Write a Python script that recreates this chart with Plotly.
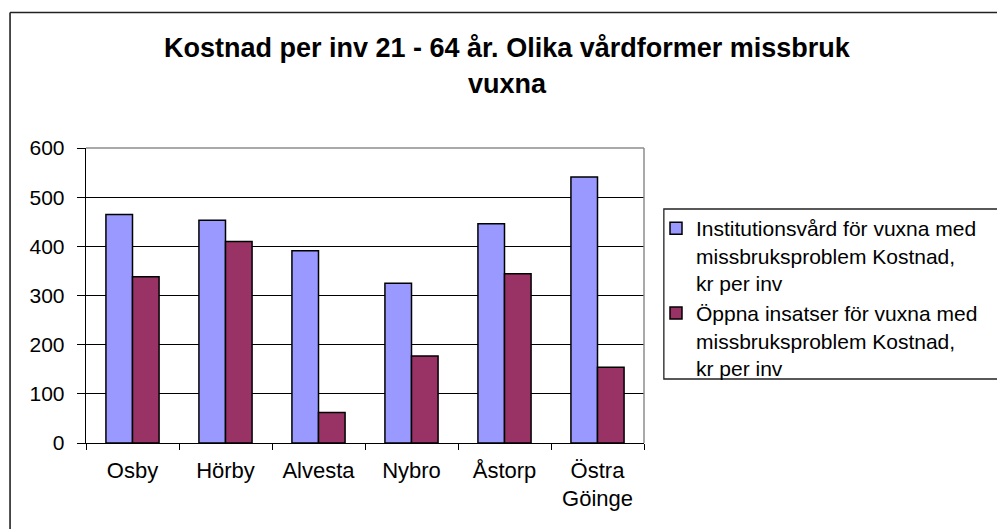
import plotly.graph_objects as go

categories = ["Osby", "Hörby", "Alvesta", "Nybro", "Åstorp", "Östra<br>Göinge"]
institution = [465, 453, 391, 325, 446, 541]
oppna = [338, 410, 62, 177, 344, 154]
series_names = [
    "Institutionsvård för vuxna med<br>missbruksproblem Kostnad,<br>kr per inv",
    "Öppna insatser för vuxna med<br>missbruksproblem Kostnad,<br>kr per inv",
]
title_lines = ["Kostnad per inv 21 - 64 år. Olika vårdformer missbruk", "vuxna"]
y_ticks = [0, 100, 200, 300, 400, 500, 600]

W, H = 997, 529
L, R, T, B = 86, 648, 148, 443
pw, ph = R - L, B - T

def px(x):
    return (x - L) / pw

def py(y):
    return (B - y) / ph

FONT = "Liberation Sans, Arial, sans-serif"

fig = go.Figure()
fig.add_trace(go.Bar(x=categories, y=institution, name=series_names[0],
                     marker=dict(color="#9999FF", line=dict(color="black", width=1.5))))
fig.add_trace(go.Bar(x=categories, y=oppna, name=series_names[1],
                     marker=dict(color="#993366", line=dict(color="black", width=1.5))))

fig.update_layout(
    width=W, height=H,
    margin=dict(l=L, r=W - R, t=T, b=H - B, pad=0),
    paper_bgcolor="white", plot_bgcolor="white",
    barmode="group", bargap=1.5 / 3.5, bargroupgap=0,
    font=dict(family=FONT, size=21, color="black"),
    showlegend=True,
    legend=dict(
        xref="container", yref="container",
        x=656 / W, y=1 - 208 / H, xanchor="left", yanchor="top",
        bgcolor="rgba(0,0,0,0)", borderwidth=0,
        font=dict(size=21, color="black"),
        valign="top", tracegroupgap=4,
    ),
)
fig.update_yaxes(
    range=[0, 600], tickvals=y_ticks, showgrid=True, gridcolor="black", gridwidth=1,
    showline=True, linecolor="black", linewidth=1.3,
    ticks="outside", ticklen=8, tickcolor="black", tickwidth=1,
    ticklabelstandoff=8, zeroline=False, fixedrange=True,
    tickfont=dict(size=21),
)
fig.update_xaxes(
    showline=True, linecolor="black", linewidth=1.3,
    ticks="outside", ticklen=6, tickcolor="black", tickwidth=1,
    tickson="boundaries", ticklabelstandoff=7, fixedrange=True,
    tickfont=dict(size=22),
)

shapes = [
    dict(type="line", xref="paper", yref="paper", x0=0, x1=1, y0=1, y1=1,
         line=dict(color="#8c8c8c", width=1.5), layer="above"),
    dict(type="line", xref="paper", yref="paper", x0=1, x1=1, y0=0, y1=1,
         line=dict(color="#8c8c8c", width=1.5), layer="above"),
    dict(type="line", xref="paper", yref="paper", x0=px(9.5), x1=px(1010), y0=py(12.5), y1=py(12.5),
         line=dict(color="#222222", width=1.6)),
    dict(type="line", xref="paper", yref="paper", x0=px(9.5), x1=px(9.5), y0=py(12.5), y1=py(540),
         line=dict(color="#222222", width=1.6)),
    dict(type="rect", xref="paper", yref="paper", x0=px(668), x1=px(1010), y0=py(379), y1=py(209),
         line=dict(color="#222222", width=1.3)),
]
fig.update_layout(shapes=shapes)

fig.add_annotation(text="<b>" + title_lines[0] + "</b>", xref="paper", yref="paper",
                   x=px(511), y=py(48), xanchor="center", yanchor="middle",
                   showarrow=False, font=dict(size=27, family=FONT, color="black"))
fig.add_annotation(text="<b>" + title_lines[1] + "</b>", xref="paper", yref="paper",
                   x=px(511), y=py(84), xanchor="center", yanchor="middle",
                   showarrow=False, font=dict(size=27, family=FONT, color="black"))

fig.write_html("out.html", config={"displayModeBar": False, "staticPlot": True},
               post_script="document.body.style.margin='0';")
